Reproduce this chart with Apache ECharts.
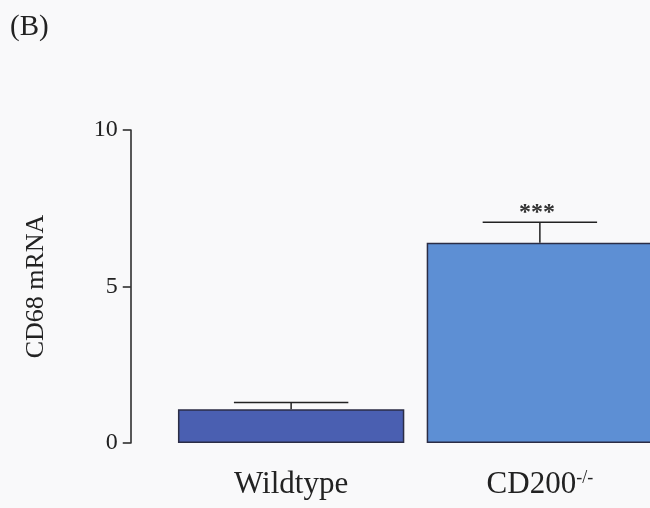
<!DOCTYPE html>
<html><head><meta charset="utf-8">
<script src="https://cdn.jsdelivr.net/npm/echarts@6/dist/echarts.min.js"></script>
<style>html,body{margin:0;padding:0;background:#f9f9fa;}#c{width:650px;height:508px;}</style>
</head><body><div id="c"></div>
<script>
var categories = ['Wildtype', 'CD200'];
var means = [1.08, 6.4];
var errors = [0.21, 0.65];
var marks = ['', '***'];
var yTicks = [0, 5, 10];
var colors = ['#4a5fb1', '#5d8fd4'];

var chart = echarts.init(document.getElementById('c'));
var font = '"Liberation Serif", "DejaVu Serif", serif';
chart.setOption({
  backgroundColor: '#f9f9fa',
  animation: false,
  title: {text: '(B)', left: 5, top: 8, textStyle: {fontFamily: font, fontSize: 29, fontWeight: 'normal', color: '#222'}},
  grid: {left: 166.75, top: 130, width: 497.5, height: 313, containLabel: false, outerBoundsMode: 'none'},
  xAxis: {
    type: 'category', data: categories,
    axisLine: {show: false}, axisTick: {show: false},
    axisLabel: {
      interval: 0, hideOverlap: false,
      margin: 26, fontFamily: font, fontSize: 31, color: '#222',
      formatter: function (v) { return v === 'CD200' ? '{m|CD200}{s|-/-}' : v; },
      rich: {m: {fontFamily: font, fontSize: 31, color: '#222'}, s: {fontFamily: font, fontSize: 18, color: '#222', verticalAlign: 'top', padding: [0, 0, 14, 0]}}
    }
  },
  yAxis: {
    type: 'value', min: 0, max: 10, interval: 5, offset: 36,
    name: 'CD68 mRNA', nameLocation: 'middle', nameGap: 82,
    nameTextStyle: {fontFamily: font, fontSize: 26, color: '#222'},
    axisLine: {show: true, lineStyle: {color: '#222', width: 1.5}},
    axisTick: {show: true, length: 8, lineStyle: {color: '#222', width: 1.5}},
    axisLabel: {fontFamily: font, fontSize: 24, color: '#222', margin: 13,
      formatter: function (v) { return yTicks.indexOf(v) >= 0 ? String(v) : ''; }},
    splitLine: {show: false}
  },
  series: [
    {
      type: 'bar', barWidth: '91%',
      data: means.map(function (v, i) { return {value: v, itemStyle: {color: colors[i]}}; }),
      itemStyle: {borderColor: '#2b2d45', borderWidth: 1.5},
      z: 2
    },
    {
      type: 'custom', z: 3,
      data: means.map(function (v, i) { return [i, v, errors[i]]; }),
      renderItem: function (params, api) {
        var i = api.value(0), m = api.value(1), e = api.value(2);
        var base = api.coord([i, m]);
        var top = api.coord([i, m + e]);
        var bw = api.size([1, 0])[0] * 0.46;
        var st = {stroke: '#222', lineWidth: 1.5};
        var children = [
          {type: 'line', shape: {x1: base[0], y1: base[1], x2: top[0], y2: top[1]}, style: st},
          {type: 'line', shape: {x1: top[0] - bw / 2, y1: top[1], x2: top[0] + bw / 2, y2: top[1]}, style: st}
        ];
        if (marks[params.dataIndex]) {
          children.push({type: 'text', style: {text: marks[params.dataIndex], x: top[0] - 3, y: top[1] + 2,
            align: 'center', verticalAlign: 'bottom', font: 'bold 24px ' + font, fill: '#333'}});
        }
        return {type: 'group', children: children};
      }
    }
  ]
});
</script></body></html>
